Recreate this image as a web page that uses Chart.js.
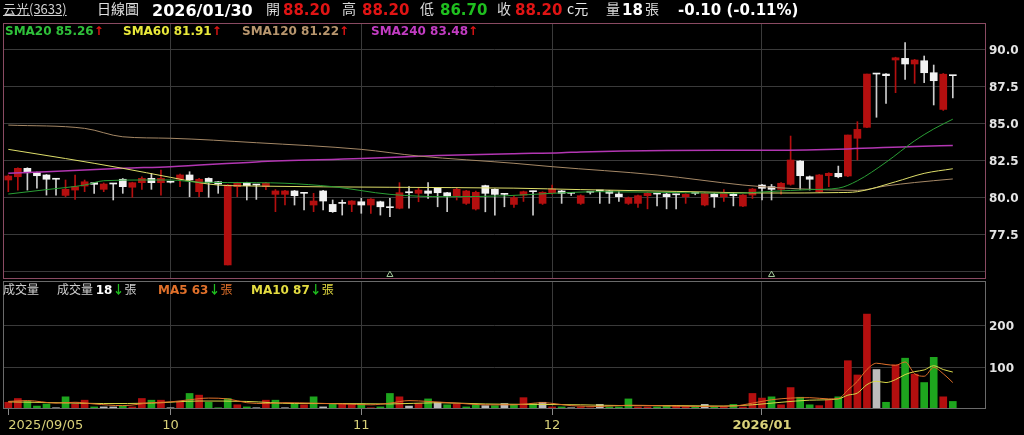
<!DOCTYPE html>
<html>
<head>
<meta charset="utf-8">
<script src="https://cdn.jsdelivr.net/npm/chart.js@4.4.1/dist/chart.umd.min.js"></script>
<style>
	html, body { margin: 0; padding: 0; background: #000; width: 1024px; height: 435px; overflow: hidden; }
	body { position: relative; font-family: "DejaVu Sans", "Noto Sans CJK TC", sans-serif; color: #d8d8d8; }
	.panel { position: absolute; left: 0; width: 1024px; }
	#pricePanel { top: 0; height: 280px; }
	#volumePanel { top: 280px; height: 155px; }
	.txt { position: absolute; white-space: nowrap; z-index: 2; line-height: 1.2; }
	.cjk { font-family: "Noto Sans CJK TC", "DejaVu Sans", sans-serif; }
	.b { font-weight: bold; }
	.up { color: #e01414; }
	.dn { color: #1fbf1f; }
	.lg { font-size: 12px; font-weight: bold; }
</style>
</head>
<body>

<!-- header -->
<span class="txt cjk" style="left:3px;top:1px;font-size:13px;color:#d0d0d0;text-decoration:underline">云光(3633)</span>
<span class="txt cjk" style="left:97px;top:0px;font-size:14px;color:#e0e0e0">日線圖</span>
<span class="txt b" style="left:152px;top:1px;font-size:16px;color:#fff">2026/01/30</span>
<span class="txt cjk" style="left:266px;top:0px;font-size:14px">開</span>
<span class="txt b up" style="left:283px;top:1px;font-size:15px">88.20</span>
<span class="txt cjk" style="left:342px;top:0px;font-size:14px">高</span>
<span class="txt b up" style="left:362px;top:1px;font-size:15px">88.20</span>
<span class="txt cjk" style="left:420px;top:0px;font-size:14px">低</span>
<span class="txt b dn" style="left:440px;top:1px;font-size:15px">86.70</span>
<span class="txt cjk" style="left:497px;top:0px;font-size:14px">收</span>
<span class="txt b up" style="left:515px;top:1px;font-size:15px">88.20</span>
<span class="txt cjk" style="left:567px;top:0px;font-size:14px;color:#e8e8e8">c元</span>
<span class="txt cjk" style="left:606px;top:0px;font-size:14px">量</span>
<span class="txt b" style="left:622px;top:1px;font-size:15px;color:#fff">18</span>
<span class="txt cjk" style="left:645px;top:0px;font-size:14px">張</span>
<span class="txt b" style="left:678px;top:1px;font-size:15px;color:#fff">-0.10 (-0.11%)</span>

<!-- price legend -->
<span class="txt lg" style="left:5px;top:24px;color:#2fc03a">SMA20 85.26<span class="up">↑</span></span>
<span class="txt lg" style="left:123px;top:24px;color:#e8e83a">SMA60 81.91<span class="up">↑</span></span>
<span class="txt lg" style="left:242px;top:24px;color:#b8966e">SMA120 81.22<span class="up">↑</span></span>
<span class="txt lg" style="left:371px;top:24px;color:#c23cc2">SMA240 83.48<span class="up">↑</span></span>

<!-- volume legend -->
<span class="txt cjk" style="left:3px;top:282px;font-size:12px;color:#cfcfcf">成交量</span>
<span class="txt cjk" style="left:57px;top:282px;font-size:12px;color:#cfcfcf">成交量 <b style="font-family:'DejaVu Sans';color:#fff">18</b><b class="dn">↓</b>張</span>
<span class="txt cjk" style="left:158px;top:282px;font-size:12px;color:#e0702a"><b style="font-family:'DejaVu Sans'">MA5 63</b><b class="dn">↓</b>張</span>
<span class="txt cjk" style="left:251px;top:282px;font-size:12px;color:#e4dc40"><b style="font-family:'DejaVu Sans'">MA10 87</b><b class="dn">↓</b>張</span>

<div class="panel" id="pricePanel"><canvas id="priceChart"></canvas></div>
<div class="panel" id="volumePanel"><canvas id="volumeChart"></canvas></div>

<script>
// trading day index of each month label on the time axis
var tickIndex		 =	[0, 17, 37, 57, 79];
var tickLabels		 =	["2025/09/05", "10", "11", "12", "2026/01"];

var priceTicks		 =	[75, 77.5, 80, 82.5, 85, 87.5, 90];
var volumeTicks		 =	[100, 200];

var openPrice		 =	[
	81.15, 81.37, 81.94, 81.64, 81.49, 81.20, 80.11, 80.47, 80.74, 80.97,
	80.52, 80.88, 81.20, 80.66, 80.97, 81.26, 80.97, 81.00, 81.20, 81.49,
	80.36, 81.26, 81.03, 75.41, 80.70, 80.97, 80.81, 80.70, 80.18, 80.18,
	80.41, 80.25, 79.46, 80.41, 79.50, 79.57, 79.50, 79.68, 79.46, 79.68,
	79.28, 79.24, 80.29, 80.25, 80.41, 80.59, 80.29, 80.07, 79.57, 79.19,
	80.77, 80.52, 80.18, 79.50, 80.13, 80.36, 79.57, 80.29, 80.41, 80.25,
	79.57, 80.32, 80.41, 80.41, 80.20, 79.57, 79.57, 80.09, 80.20, 80.20,
	80.15, 80.02, 80.25, 79.46, 80.20, 80.02, 80.20, 79.39, 80.13, 80.81,
	80.70, 80.52, 80.86, 82.43, 81.37, 80.36, 81.44, 81.60, 81.42, 83.97,
	84.71, 88.31, 88.31, 89.26, 89.37, 88.99, 89.21, 88.40, 85.92, 88.20
];
var highPrice		 =	[
	81.49, 81.98, 81.98, 81.68, 81.52, 81.22, 81.15, 81.49, 81.15, 81.00,
	80.95, 80.90, 81.25, 81.00, 81.37, 81.60, 81.82, 81.05, 81.55, 81.71,
	81.26, 81.30, 81.05, 80.85, 81.00, 81.00, 80.85, 81.00, 80.50, 80.45,
	80.45, 80.30, 80.25, 80.45, 79.80, 79.80, 79.75, 79.91, 79.90, 79.72,
	79.91, 80.97, 80.70, 80.59, 80.97, 80.62, 80.32, 80.59, 80.45, 80.40,
	80.80, 80.55, 80.22, 80.10, 80.40, 80.40, 80.36, 80.81, 80.45, 80.30,
	80.15, 80.36, 80.45, 80.45, 80.36, 80.00, 80.13, 80.30, 80.25, 80.25,
	80.20, 80.22, 80.30, 80.30, 80.25, 80.50, 80.25, 80.17, 80.58, 80.85,
	80.85, 80.97, 84.12, 82.47, 81.42, 81.52, 81.64, 82.09, 84.19, 85.09,
	88.31, 88.35, 88.35, 89.45, 90.43, 89.30, 89.53, 88.92, 88.35, 88.20
];
var lowPrice		 =	[
	80.36, 80.47, 80.47, 80.59, 80.13, 80.13, 80.02, 79.84, 80.36, 80.25,
	80.36, 79.80, 80.25, 79.98, 80.52, 80.52, 80.13, 80.95, 80.70, 80.02,
	80.02, 79.98, 80.25, 75.41, 80.02, 79.80, 79.84, 80.50, 79.01, 79.46,
	79.46, 79.12, 79.01, 79.12, 78.96, 78.78, 79.01, 78.90, 78.90, 78.78,
	78.67, 79.20, 79.24, 79.68, 79.91, 79.34, 79.01, 79.80, 79.50, 79.12,
	79.00, 78.78, 79.34, 79.30, 79.70, 78.78, 79.50, 80.20, 79.57, 80.10,
	79.50, 80.20, 79.57, 79.57, 79.70, 79.50, 79.30, 79.20, 79.40, 79.20,
	79.20, 79.57, 80.15, 79.40, 79.30, 79.70, 79.40, 79.35, 79.90, 79.80,
	79.80, 80.20, 80.80, 80.52, 80.47, 80.30, 80.70, 81.30, 81.38, 82.50,
	84.68, 85.39, 86.33, 87.05, 87.95, 87.68, 87.73, 86.22, 85.85, 86.70
];
var closePrice		 =	[
	81.42, 81.94, 81.64, 81.44, 81.20, 81.20, 80.52, 80.70, 81.03, 80.86,
	80.88, 80.88, 80.70, 80.97, 81.26, 80.97, 81.26, 81.00, 81.49, 81.15,
	81.20, 80.97, 80.88, 80.81, 80.93, 80.77, 80.81, 80.93, 80.41, 80.41,
	80.09, 80.25, 79.73, 79.73, 79.01, 79.57, 79.73, 79.46, 79.86, 79.34,
	79.28, 80.29, 80.29, 80.47, 80.25, 80.29, 80.07, 80.52, 80.41, 80.32,
	80.25, 80.18, 80.18, 79.95, 80.36, 80.36, 80.32, 80.54, 80.25, 80.25,
	80.09, 80.32, 80.41, 80.25, 80.02, 79.95, 80.09, 80.25, 80.20, 80.02,
	80.15, 80.18, 80.25, 80.25, 80.02, 80.25, 80.09, 80.13, 80.54, 80.59,
	80.52, 80.93, 82.50, 81.44, 81.20, 81.49, 81.60, 81.37, 84.19, 84.57,
	88.31, 88.31, 88.20, 89.41, 88.99, 89.26, 88.40, 87.86, 88.30, 88.20
];
var volume			 =	[
	16, 25, 19, 7, 12, 3, 29, 12, 21, 5,
	5, 5, 7, 5, 25, 21, 21, 3, 17, 37,
	33, 16, 3, 25, 10, 5, 3, 21, 21, 3,
	12, 10, 29, 5, 12, 12, 10, 12, 3, 5,
	37, 29, 7, 13, 24, 16, 10, 12, 5, 10,
	8, 8, 13, 11, 27, 13, 16, 5, 5, 3,
	5, 3, 11, 5, 5, 24, 5, 5, 5, 8,
	8, 5, 5, 11, 5, 5, 11, 5, 37, 26,
	29, 10, 51, 28, 10, 8, 21, 29, 115, 81,
	226, 94, 16, 105, 121, 83, 63, 123, 29, 18
];
// r = up on the day, g = down, w = unchanged
var volumeTone		 =	[
	"rrgggwgrrg", "wwgrrgrwrg", "rgggrgwrgw", "grgwgrrgrg", "grwrgwgrgg",
	"wgwgrgwrgw", "rrwgggrrgg", "rrgwgrgrrr", "grrggrrgrr", "rwgrgrggrg"
].join("");

// moving averages as [day index, value]
var sma20			 =	[[0, 80.2], [4, 80.5], [8, 80.81], [10, 81.1], [14, 81.15], [17, 81.15], [20, 81.0], [26, 80.97], [29, 80.93], [34, 80.7], [40, 80.18], [46, 80.02], [52, 80.08], [57, 80.25], [62, 80.36], [70, 80.3], [76, 80.25], [80, 80.38], [84, 80.5], [87, 80.6], [89, 81.1], [92, 82.35], [95, 83.8], [97, 84.6], [99, 85.26]];
var sma60			 =	[[0, 83.22], [6, 82.6], [12, 81.94], [17, 81.33], [20, 80.97], [22, 80.81], [26, 80.74], [40, 80.66], [53, 80.6], [60, 80.5], [70, 80.38], [80, 80.27], [87, 80.3], [89, 80.36], [93, 81.03], [96, 81.6], [99, 81.91]];
var sma120			 =	[[0, 84.86], [8, 84.64], [12, 84.07], [17, 83.97], [26, 83.67], [37, 83.22], [43, 82.77], [53, 82.28], [57, 82.05], [68, 81.49], [77, 80.81], [79, 80.7], [83, 80.55], [89, 80.45], [92, 80.75], [95, 80.98], [99, 81.22]];
var sma240			 =	[[0, 81.6], [12, 81.94], [17, 82.05], [26, 82.37], [37, 82.6], [45, 82.8], [53, 82.93], [58, 82.99], [60, 83.05], [69, 83.15], [80, 83.16], [88, 83.25], [95, 83.42], [99, 83.48]];
var volMa5			 =	[[0, 18], [2, 20], [5, 14], [7, 16], [9, 12], [12, 8], [15, 15], [17, 17], [19, 22], [21, 26], [23, 24], [25, 15], [27, 13], [29, 15], [32, 14], [35, 12], [38, 10], [40, 14], [42, 20], [44, 18], [47, 14], [50, 10], [53, 10], [56, 15], [59, 8], [62, 6], [65, 9], [68, 8], [72, 6], [76, 7], [78, 14], [80, 22], [82, 26], [84, 27], [86, 24], [87, 25], [88, 45], [89, 66], [90, 94], [91, 109], [92, 106], [93, 104], [94, 112], [95, 84], [96, 78], [97, 99], [98, 84], [99, 63]];
var volMa10			 =	[[0, 17], [5, 15], [10, 13], [15, 14], [20, 19], [25, 18], [30, 13], [35, 13], [40, 12], [45, 15], [50, 12], [55, 11], [60, 10], [65, 8], [70, 8], [75, 7], [78, 10], [81, 16], [84, 21], [87, 24], [88, 33], [89, 38], [90, 58], [91, 66], [92, 63], [93, 70], [94, 82], [95, 89], [96, 93], [97, 103], [98, 94], [99, 88]];

// days carrying the small signal caret under the candles
var signalIndex		 =	[40, 80];

var X_MIN			 =	-0.556;
var X_MAX			 =	102.48;

var colours			 =	{
	red			 :	"#b40f0f",
	white		 :	"#f2f2f2",
	wickWhite	 :	"#cdcdcd",
	green		 :	"#1ea51e",
	grey		 :	"#bdbdbd",
	sma20		 :	"#2a9e35",
	sma60		 :	"#dede6a",
	sma120		 :	"#a58866",
	sma240		 :	"#b236b2",
	ma5			 :	"#e0702a",
	ma10		 :	"#d8d848",
	grid		 :	"#3a3a3a",
	frame		 :	"#8a4a62",
	volFrame	 :	"#6a6a6a"
};

Chart.defaults.font.family	 =	"'DejaVu Sans', sans-serif";

/**
 * Draws a box round the plot area
 */
var framePlugin		 =	{
	id			 :	"frame",
	afterDraw	 :	function (chart, args, opts) {
		var a	 =	chart.chartArea;
		var ctx	 =	chart.ctx;
		ctx.save();
		ctx.strokeStyle	 =	opts.color;
		ctx.lineWidth	 =	1;
		ctx.strokeRect(Math.round(a.left) + 0.5, Math.round(a.top) + 0.5, Math.round(a.right - a.left) - 1, Math.round(a.bottom - a.top) - 1);
		ctx.restore();
	}
};

function toPoints(list) {
	return list.map(function (p) { return { x: p[0], y: p[1] }; });
}

function maLine(list, colour, width) {
	return {
		type						 :	"line",
		data						 :	toPoints(list),
		borderColor					 :	colour,
		borderWidth					 :	width || 1,
		pointRadius					 :	0,
		cubicInterpolationMode		 :	"monotone",
		order						 :	-1
	};
}

function fixedTicks(values) {
	return function (scale) {
		scale.ticks	 =	values.map(function (v) { return { value: v }; });
	};
}

/**
 * Pins an axis to a fixed size and drops the label overhang padding
 */
function fixedSize(key, size) {
	return function (scale) {
		scale[key]			 =	size;
		scale.paddingTop	 =	0;
		scale.paddingBottom	 =	0;
		scale.paddingLeft	 =	0;
		scale.paddingRight	 =	0;
	};
}

/**
 * Renders the candle chart
 */
function renderPrice() {

	var bodies		 =	[];
	var wicks		 =	[];
	var bodyColour	 =	[];
	var wickColour	 =	[];

	for (var i = 0; i < openPrice.length; i++) {

		var rising	 =	closePrice[i] > openPrice[i];
		bodies.push({ x: i, y: [openPrice[i], closePrice[i]] });
		wicks.push({ x: i, y: [lowPrice[i], highPrice[i]] });
		bodyColour.push(rising ? colours.red : colours.white);
		wickColour.push(rising ? colours.red : colours.wickWhite);

	}

	new Chart(document.getElementById("priceChart"), {
		type		 :	"bar",
		data		 :	{
			datasets	 :	[
				maLine(sma20, colours.sma20),
				maLine(sma60, colours.sma60),
				maLine(sma120, colours.sma120),
				maLine(sma240, colours.sma240, 1.5),
				{
					type				 :	"line",
					showLine			 :	false,
					data				 :	signalIndex.map(function (i) { return { x: i, y: 74.75 }; }),
					pointStyle			 :	"triangle",
					pointRadius			 :	3.5,
					pointBackgroundColor :	"transparent",
					pointBorderColor	 :	"#a9cfa0",
					pointBorderWidth	 :	1,
					order				 :	-2
				},
				{
					data				 :	bodies,
					backgroundColor		 :	bodyColour,
					barThickness		 :	7,
					minBarLength		 :	1,
					grouped				 :	false,
					order				 :	0
				},
				{
					data				 :	wicks,
					backgroundColor		 :	wickColour,
					barThickness		 :	1,
					grouped				 :	false,
					order				 :	1
				}
			]
		},
		options		 :	{
			animation				 :	false,
			responsive				 :	true,
			maintainAspectRatio		 :	false,
			devicePixelRatio		 :	1,
			events					 :	[],
			layout					 :	{ autoPadding: false, padding: { top: 23, bottom: 1, left: 3, right: 0 } },
			plugins					 :	{ legend: { display: false }, tooltip: { enabled: false }, frame: { color: colours.frame } },
			scales					 :	{
				x	 :	{
					type			 :	"linear",
					min				 :	X_MIN,
					max				 :	X_MAX,
					offset			 :	false,
					afterBuildTicks	 :	fixedTicks(tickIndex.slice(1)),
					afterFit		 :	fixedSize("height", 0),
					ticks			 :	{ display: false },
					grid			 :	{ color: colours.grid, drawTicks: false, offset: false },
					border			 :	{ display: false }
				},
				y	 :	{
					position		 :	"right",
					min				 :	74.46,
					max				 :	91.76,
					afterBuildTicks	 :	fixedTicks(priceTicks),
					afterFit		 :	fixedSize("width", 38),
					ticks			 :	{
						color		 :	"#e4e4e4",
						padding		 :	3,
						labelOffset	 :	2,
						font		 :	{ size: 12, weight: "bold" },
						callback	 :	function (v) { return v === 75 ? "" : v.toFixed(1); }
					},
					grid			 :	{ color: colours.grid, drawTicks: false },
					border			 :	{ display: false }
				}
			}
		},
		plugins		 :	[framePlugin]
	});

}

/**
 * Renders the volume chart
 */
function renderVolume() {

	var toneColour	 =	{ r: colours.red, g: colours.green, w: colours.grey };

	new Chart(document.getElementById("volumeChart"), {
		type		 :	"bar",
		data		 :	{
			datasets	 :	[
				maLine(volMa5, colours.ma5),
				maLine(volMa10, colours.ma10),
				{
					data			 :	volume.map(function (v, i) { return { x: i, y: v }; }),
					backgroundColor	 :	volume.map(function (v, i) { return toneColour[volumeTone[i]]; }),
					barThickness	 :	7,
					grouped			 :	false,
					order			 :	0
				}
			]
		},
		options		 :	{
			animation				 :	false,
			responsive				 :	true,
			maintainAspectRatio		 :	false,
			devicePixelRatio		 :	1,
			events					 :	[],
			layout					 :	{ autoPadding: false, padding: { top: 1, bottom: 0, left: 3, right: 0 } },
			plugins					 :	{ legend: { display: false }, tooltip: { enabled: false }, frame: { color: colours.volFrame } },
			scales					 :	{
				x	 :	{
					type			 :	"linear",
					min				 :	X_MIN,
					max				 :	X_MAX,
					offset			 :	false,
					afterBuildTicks	 :	fixedTicks(tickIndex.concat([X_MAX])),
					afterFit		 :	fixedSize("height", 26),
					ticks			 :	{
						autoSkip	 :	false,
						maxRotation	 :	0,
						align		 :	"inner",
						padding		 :	3,
						color		 :	"#d9d17a",
						font		 :	function (ctx) {
							var bold	 =	ctx.tick && ctx.tick.value === tickIndex[tickIndex.length - 1];
							return { size: 13, weight: bold ? "bold" : "normal" };
						},
						callback	 :	function (v) {
							var k	 =	tickIndex.indexOf(v);
							return k < 0 ? "" : tickLabels[k];
						}
					},
					grid			 :	{
						offset		 :	false,
						tickLength	 :	6,
						color		 :	function (ctx) { return ctx.tick && tickIndex.indexOf(ctx.tick.value) > 0 ? colours.grid : "transparent"; },
						tickColor	 :	function (ctx) { return ctx.tick && tickIndex.indexOf(ctx.tick.value) >= 0 ? "#8a8a8a" : "transparent"; }
					},
					border			 :	{ display: false }
				},
				y	 :	{
					position		 :	"right",
					min				 :	0,
					max				 :	304.8,
					afterBuildTicks	 :	fixedTicks(volumeTicks),
					afterFit		 :	fixedSize("width", 38),
					ticks			 :	{ color: "#e4e4e4", padding: 3, labelOffset: 2, font: { size: 12, weight: "bold" } },
					grid			 :	{ color: colours.grid, drawTicks: false },
					border			 :	{ display: false }
				}
			}
		},
		plugins		 :	[framePlugin]
	});

}

renderPrice();
renderVolume();
</script>
</body>
</html>
